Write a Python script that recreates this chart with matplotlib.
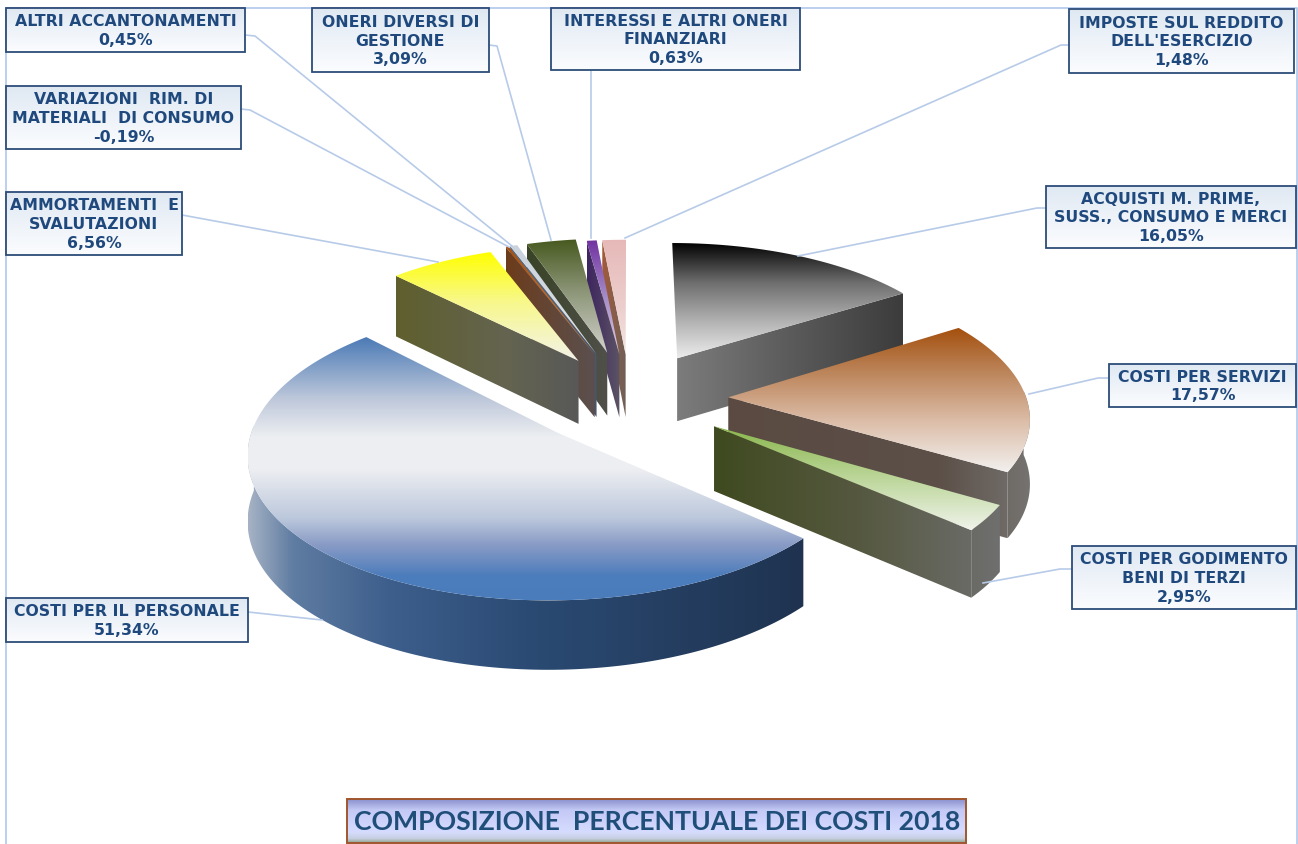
import numpy as np
import matplotlib
matplotlib.use("Agg")
import matplotlib.pyplot as plt
from matplotlib.colors import to_rgb
from matplotlib.patches import Polygon, Rectangle

# cost items, clockwise from twelve o'clock
names = [
    "ACQUISTI M. PRIME,\nSUSS., CONSUMO E MERCI",
    "COSTI PER SERVIZI",
    "COSTI PER GODIMENTO\nBENI DI TERZI",
    "COSTI PER IL PERSONALE",
    "AMMORTAMENTI  E\nSVALUTAZIONI",
    "VARIAZIONI  RIM. DI\nMATERIALI  DI CONSUMO",
    "ALTRI ACCANTONAMENTI",
    "ONERI DIVERSI DI\nGESTIONE",
    "INTERESSI E ALTRI ONERI\nFINANZIARI",
    "IMPOSTE SUL REDDITO\nDELL'ESERCIZIO",
]
shares = [16.05, 17.57, 2.95, 51.34, 6.56, -0.19, 0.45, 3.09, 0.63, 1.48]
title = "COMPOSIZIONE  PERCENTUALE DEI COSTI 2018"

# pie slices pulled away from the centre, in radius units
explode = [0.34, 0.33, 0.34, 0.34, 0.33, 0.35, 0.35, 0.35, 0.33, 0.33]

# top face gradients, top to bottom
top_stops = [
    [(0, "#000000"), (0.35, "#6e6e6e"), (0.7, "#b5b5b5"), (1, "#ececec")],
    [(0, "#a44f0c"), (0.3, "#bb8358"), (0.65, "#dcbda8"), (1, "#f2f0ee")],
    [(0, "#88b54a"), (0.5, "#bcd69a"), (1, "#f0f3ea")],
    [(0, "#4a79b5"), (0.24, "#bfc9db"), (0.38, "#eceef1"), (0.5, "#eeeff2"), (0.69, "#bcc8dc"),
     (0.79, "#8a9cc6"), (0.91, "#4c7cbb"), (1, "#4a7dbd")],
    [(0, "#ffff00"), (0.45, "#f8f88a"), (1, "#f2f2ea")],
    [(0, "#a5500f"), (1, "#d98a4a")],
    [(0, "#c9d2dc"), (1, "#dfe3e8")],
    [(0, "#47591f"), (0.45, "#8b9476"), (1, "#d2d2cc")],
    [(0, "#7030a0"), (0.5, "#a58cc8"), (1, "#d8d0e4")],
    [(0, "#e6b9b8"), (0.6, "#eccfcd"), (1, "#f3e6e4")],
]
# wall gradients, left to right
wall_stops = [
    [(0, "#7c7c7c"), (0.5, "#5b5b5b"), (1, "#3c3c3c")],
    [(0, "#5a4a42"), (0.7, "#5c5048"), (1, "#757370")],
    [(0, "#3f4a20"), (0.5, "#55583f"), (1, "#6f6f6f")],
    [(0, "#a5b2c4"), (0.08, "#5f7ca2"), (0.25, "#3e5f8c"), (0.5, "#2b4b74"), (1, "#1f3350")],
    [(0, "#5f5f2e"), (0.6, "#646450"), (1, "#585858")],
    [(0, "#6c3c1c"), (1, "#5a5050")],
    [(0, "#5b6b84"), (1, "#4b5566")],
    [(0, "#394326"), (1, "#50504a")],
    [(0, "#3d2560"), (1, "#5c5464")],
    [(0, "#a35a3a"), (1, "#6e6058")],
]
# painting order, far slices first
paint_order = [9, 8, 7, 6, 5, 4, 0, 1, 2, 3]

# (left, top, right, bottom) of each label box and its leader line
boxes = [
    (1046, 186, 1296, 248), (1109, 364, 1296, 407), (1072, 546, 1296, 609),
    (6, 598, 248, 642), (6, 192, 182, 255), (6, 86, 241, 149), (6, 8, 245, 52),
    (312, 8, 489, 72), (551, 8, 800, 70), (1069, 9, 1294, 73),
]
leaders = [
    [(1046, 208), (1037, 208), (798, 256)],
    [(1109, 378), (1098, 378), (1029, 394)],
    [(1072, 569), (1060, 569), (983, 583)],
    [(248, 612), (322, 620)],
    [(182, 215), (438, 262)],
    [(241, 109), (250, 110), (509, 247)],
    [(245, 35), (255, 36), (512, 246)],
    [(489, 45), (497, 46), (551, 240)],
    [(591, 70), (591, 238)],
    [(1069, 45), (1061, 45), (625, 238)],
]

CX, CY = 630, 398
RX, RY = 298, 138
PERSP = 0.12
DEPTH = 64


def project(gx, gy):
    s = 1 / (1 + PERSP * gy)
    return CX + RX * gx * s, CY - RY * gy * s, s


def ramp(stops, n=256):
    pos = [p for p, _ in stops]
    rgb = np.array([to_rgb(c) for _, c in stops])
    t = np.linspace(0, 1, n)
    return np.stack([np.interp(t, pos, rgb[:, i]) for i in range(3)], axis=-1)


def fill_gradient(ax, poly, stops, extent, vertical=True, zorder=2):
    arr = ramp(stops)
    arr = arr[:, None, :] if vertical else arr[None, :, :]
    x0, x1, y0, y1 = extent
    im = ax.imshow(arr, extent=(x0, x1, y1, y0), aspect="auto", zorder=zorder, interpolation="bilinear")
    patch = Polygon(poly, closed=True, transform=ax.transData, facecolor="none", edgecolor="none")
    ax.add_patch(patch)
    im.set_clip_path(patch)


def wall_poly(pts):
    top = [(x, y) for x, y, s in pts]
    bottom = [(x, y + DEPTH * np.sqrt(s)) for x, y, s in pts]
    return np.array(top + bottom[::-1])


fig = plt.figure(figsize=(12.98, 8.44), dpi=100)
ax = fig.add_axes([0, 0, 1, 1])

# slice angles come from the size of each share
sizes = np.abs(shares)
edges = np.concatenate([[0], np.cumsum(sizes)]) / sizes.sum() * 360

for i in paint_order:
    a0, a1 = edges[i], edges[i + 1]
    mid = np.radians((a0 + a1) / 2)
    ox, oy = explode[i] * np.sin(mid), explode[i] * np.cos(mid)
    theta = np.radians(np.linspace(a0, a1, max(int(a1 - a0) * 2, 4)))
    arc = [project(ox + np.sin(t), oy + np.cos(t)) for t in theta]
    apex = project(ox, oy)

    walls = []
    if np.cos(np.radians(a0 - 90)) < -0.01:
        walls.append(wall_poly([apex, arc[0]]))
    if np.cos(np.radians(a1 + 90)) < -0.01:
        walls.append(wall_poly([apex, arc[-1]]))
    front = [p for t, p in zip(theta, arc) if np.cos(t) < 0.05]
    if len(front) > 1:
        walls.append(wall_poly(front))

    top = np.array([apex[:2]] + [p[:2] for p in arc])
    if walls:
        all_x = np.concatenate([w[:, 0] for w in walls])
        x0, x1 = all_x.min(), all_x.max()
        for w in sorted(walls, key=lambda w: w[:, 1].max()):
            fill_gradient(ax, w, wall_stops[i], (x0, x1, w[:, 1].min(), w[:, 1].max()), vertical=False)
    fill_gradient(ax, top, top_stops[i],
                  (top[:, 0].min(), top[:, 0].max(), top[:, 1].min(), top[:, 1].max()))

# outer frame of the chart area
ax.plot([6, 6, 1297, 1297], [844, 8, 8, 844], color="#a9c4eb", lw=1.1, zorder=1)

box_stops = [(0, "#dfe8f2"), (0.5, "#eef3f9"), (1, "#fbfcfe")]
for name, val, box, line in zip(names, shares, boxes, leaders):
    xs, ys = zip(*line)
    ax.plot(xs, ys, color="#b7cbe8", lw=1.2, zorder=3)
    l, t, r, b = box
    corners = [(l, t), (r, t), (r, b), (l, b)]
    fill_gradient(ax, corners, box_stops, (l, r, t, b), zorder=4)
    ax.add_patch(Rectangle((l, t), r - l, b - t, fill=False, edgecolor="#2c4c78", lw=1.3, zorder=5))
    text = name + "\n" + f"{val:.2f}".replace(".", ",") + "%"
    ax.text((l + r) / 2, (t + b) / 2 + 1, text, ha="center", va="center", ma="center",
            color="#1f497d", fontsize=11.3, fontweight="bold", linespacing=1.3,
            family="DejaVu Sans", zorder=6)

# title banner
title_stops = [(0, "#8a90cc"), (0.25, "#c3c9f5"), (0.75, "#d6dcff"), (0.9, "#c6d0e0"), (1, "#8fa088")]
fill_gradient(ax, [(347, 799), (966, 799), (966, 843), (347, 843)], title_stops, (347, 966, 799, 843), zorder=4)
ax.add_patch(Rectangle((347, 799), 619, 44, fill=False, edgecolor="#a0562d", lw=1.4, zorder=5))
ax.text(657, 822, title, ha="center", va="center", color="#1f4e79", fontsize=19.2,
        fontweight="bold", family="Lato", zorder=6)

ax.set_xlim(0, 1298)
ax.set_ylim(844, 0)
ax.axis("off")
fig.savefig("out.png", dpi=100, facecolor="white")
